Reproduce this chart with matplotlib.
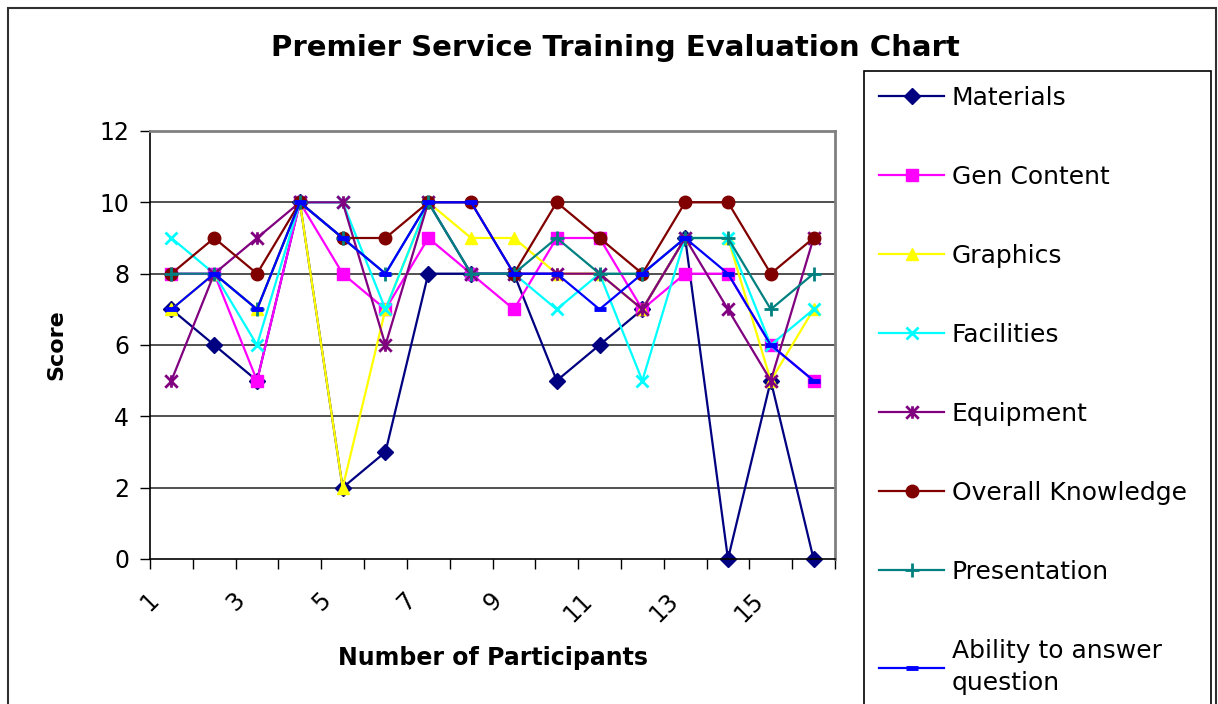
"""
Premier Service Training Evaluation Chart - line chart of the 8 evaluation scores
per participant, redrawn in the old Excel style.
"""
import matplotlib
matplotlib.use('Agg')
import matplotlib.pyplot as plt
from matplotlib.path import Path
from matplotlib.patches import Rectangle

OUT_FILE = 'out.png'
FONT = 'DejaVu Sans'       # wide sans, closest to the stretched Arial of the original

# data: one score per participant (16 participants)
participants = list(range(1, 17))
materials = [7, 6, 5, 10, 2, 3, 8, 8, 8, 5, 6, 7, 9, 0, 5, 0]
gen_content = [8, 8, 5, 10, 8, 7, 9, 8, 7, 9, 9, 7, 8, 8, 6, 5]
graphics = [7, 8, 7, 10, 2, 7, 10, 9, 9, 8, 8, 7, 9, 9, 5, 7]
facilities = [9, 8, 6, 10, 10, 7, 10, 8, 8, 7, 8, 5, 9, 9, 6, 7]
equipment = [5, 8, 9, 10, 10, 6, 10, 8, 8, 8, 8, 7, 9, 7, 5, 9]
overall_knowledge = [8, 9, 8, 10, 9, 9, 10, 10, 8, 10, 9, 8, 10, 10, 8, 9]
presentation = [8, 8, 7, 10, 9, 8, 10, 8, 8, 9, 8, 8, 9, 9, 7, 8]
ability = [7, 8, 7, 10, 9, 8, 10, 10, 8, 8, 7, 8, 9, 8, 6, 5]

series_names = ['Materials', 'Gen Content', 'Graphics', 'Facilities', 'Equipment',
                'Overall Knowledge', 'Presentation', 'Ability to answer\nquestion']
x_tick_labels = ['1', '3', '5', '7', '9', '11', '13', '15']
y_ticks = [0, 2, 4, 6, 8, 10, 12]

# Excel style asterisk: an "x" with a vertical bar
ASTERISK = Path([(0, -1), (0, 1), (-1, -1), (1, 1), (-1, 1), (1, -1)],
                [Path.MOVETO, Path.LINETO, Path.MOVETO, Path.LINETO, Path.MOVETO, Path.LINETO])

# (colour, marker, marker size, filled?)
STYLES = [
    ('#000080', 'D', 8, True),
    ('#FF00FF', 's', 8, True),
    ('#FFFF00', '^', 9, True),
    ('#00FFFF', 'x', 9, False),
    ('#800080', ASTERISK, 9, False),
    ('#800000', 'o', 9, True),
    ('#008080', '+', 10, False),
    ('#0000FF', '_', 8, False),
]


def main():
    W, H = 1218, 704
    fig = plt.figure(figsize=(W / 100, H / 100), dpi=100)
    fig.patch.set_facecolor('white')

    # plot area in pixels: x 150-835, y 131-559
    ax = fig.add_axes([150 / W, 1 - 559 / H, 685 / W, 428 / H])

    all_series = [materials, gen_content, graphics, facilities, equipment,
                  overall_knowledge, presentation, ability]
    for vals, name, (col, mk, ms, filled) in zip(all_series, series_names, STYLES):
        if filled:
            ax.plot(participants, vals, color=col, lw=1.6, marker=mk, markersize=ms,
                    markerfacecolor=col, markeredgecolor=col, label=name, clip_on=False)
        else:
            ax.plot(participants, vals, color=col, lw=1.6, marker=mk, markersize=ms,
                    markeredgewidth=2 if mk != '_' else 3.5, markeredgecolor=col,
                    label=name, clip_on=False)

    ax.set_xlim(0.5, 16.5)
    ax.set_ylim(0, 12)

    # horizontal gridlines
    for y in y_ticks[1:-1]:
        ax.axhline(y, color='#202020', lw=1.1, zorder=0)

    # y axis
    ax.set_yticks(y_ticks)
    ax.set_yticklabels([str(v) for v in y_ticks], fontsize=17, family=FONT)

    # x axis: ticks between categories, a label on every second tick
    tick_pos = [p - 0.5 for p in participants] + [16.5]
    labels = [''] * len(tick_pos)
    for i, lab in enumerate(x_tick_labels):
        labels[2 * i] = lab
    ax.set_xticks(tick_pos)
    ax.set_xticklabels(labels, rotation=45, ha='center', va='top', fontsize=17, family=FONT)
    ax.tick_params(axis='both', length=7, width=1, direction='out', color='black')
    ax.tick_params(axis='x', pad=14)
    ax.tick_params(axis='y', pad=8)

    for side in ['top', 'right']:
        ax.spines[side].set_color('#808080')
        ax.spines[side].set_linewidth(2)
    for side in ['left', 'bottom']:
        ax.spines[side].set_color('black')
        ax.spines[side].set_linewidth(1.2)

    ax.set_xlabel('Number of Participants', fontsize=17, fontweight='bold', family=FONT,
                  labelpad=14)
    ax.set_ylabel('Score', fontsize=16, fontweight='bold', family=FONT, labelpad=24)

    fig.text(615 / W, 1 - 48 / H, 'Premier Service Training Evaluation Chart',
             ha='center', va='center', fontsize=21, fontweight='bold', family=FONT)

    # legend box on the right, running off the bottom edge
    leg = fig.legend(loc='upper left', bbox_to_anchor=(864 / W, 1 - 71 / H - 0.01, 347 / W, 0.01),
                     mode='expand', borderaxespad=0, frameon=True, fancybox=False,
                     edgecolor='black', framealpha=1, handlelength=2.6, handletextpad=0.3,
                     labelspacing=2.2, borderpad=0.6,
                     prop={'family': FONT, 'size': 18})
    leg.get_frame().set_linewidth(1.2)
    leg.get_texts()[-1].set_linespacing(1.4)

    # outer chart border
    fig.patches.append(Rectangle((8 / W, -0.05), 1208 / W, 1.05 - 8 / H, transform=fig.transFigure,
                                 fill=False, edgecolor='#303030', lw=1.5))

    fig.savefig(OUT_FILE, dpi=100)
    plt.close(fig)


if __name__ == '__main__':
    main()
